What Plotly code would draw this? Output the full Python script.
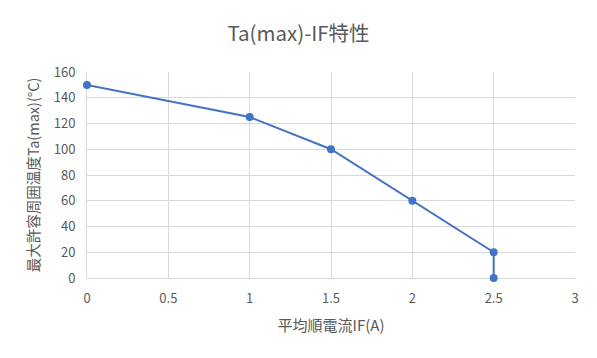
import plotly.graph_objects as go

x_current = [0, 1, 1.5, 2, 2.5, 2.5]
y_temp = [150, 125, 100, 60, 20, 0]
x_ticks = [0, 0.5, 1, 1.5, 2, 2.5, 3]
x_tick_labels = ["0", "0.5", "1", "1.5", "2", "2.5", "3"]
y_ticks = [0, 20, 40, 60, 80, 100, 120, 140, 160]

font_family = "Noto Sans CJK JP, Noto Sans, sans-serif"
gray = "#595959"

fig = go.Figure()
fig.add_trace(go.Scatter(
    x=x_current, y=y_temp, mode="lines+markers",
    line=dict(color="#4472C4", width=2),
    marker=dict(color="#4472C4", size=8),
    showlegend=False, cliponaxis=False,
))

fig.update_layout(
    width=597, height=358,
    margin=dict(l=87, r=22, t=72, b=80),
    paper_bgcolor="white", plot_bgcolor="white",
    font=dict(family=font_family, color=gray, size=13),
    title=dict(text="Ta(max)-IF特性", x=0.5, xanchor="center", y=0.905, yanchor="middle",
               font=dict(size=20.5, color=gray, family=font_family)),
    xaxis=dict(
        range=[0, 3], tickvals=x_ticks, ticktext=x_tick_labels,
        showgrid=True, gridcolor="#D9D9D9", gridwidth=1,
        zeroline=False, showline=True, linecolor="#D9D9D9", mirror=False,
        ticks="", ticklen=0, ticklabelstandoff=8, layer="below traces",
        title=dict(text="平均順電流IF(A)", font=dict(size=15, color=gray), standoff=14),
        tickfont=dict(size=13, color=gray),
    ),
    yaxis=dict(
        range=[0, 160], tickvals=y_ticks,
        showgrid=True, gridcolor="#D9D9D9", gridwidth=1,
        zeroline=False, showline=True, linecolor="#D9D9D9",
        ticks="", ticklen=0, ticklabelstandoff=8, layer="below traces",
        title=dict(text="最大許容周囲温度Ta(max)(°C)", font=dict(size=14.5, color=gray), standoff=10),
        tickfont=dict(size=13, color=gray),
    ),
)

fig.write_html("out.html", config={"displayModeBar": False},
               post_script="document.body.style.margin='0px';document.body.style.padding='0px';")
